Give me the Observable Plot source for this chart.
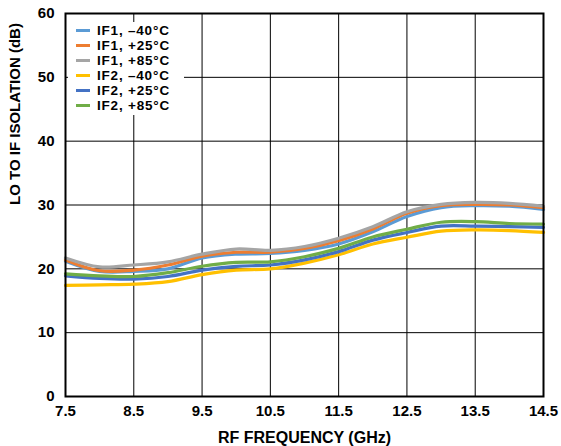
<!DOCTYPE html>
<html><head><meta charset="utf-8">
<script src="https://cdn.jsdelivr.net/npm/d3@7"></script>
<script src="https://cdn.jsdelivr.net/npm/@observablehq/plot@0.6"></script>
<style>
body{margin:0;background:#fff;}
#wrap{position:relative;width:561px;height:446px;}
#legend{position:absolute;left:68px;top:22px;width:116px;height:93px;background:#fff;
  font:bold 13.5px "Liberation Sans",Arial,sans-serif;letter-spacing:0.8px;color:#000;padding-top:1px;box-sizing:border-box;}
#legend .row{height:15.1px;line-height:15.1px;white-space:nowrap;padding-left:8px;}
#legend .sw{display:inline-block;width:14px;height:3px;vertical-align:middle;margin-right:7px;position:relative;top:-1px;}
</style></head>
<body><div id="wrap"></div>
<script>
const freq = [7.5, 8.0, 8.5, 9.0, 9.5, 10.0, 10.5, 11.0, 11.5, 12.0, 12.5, 13.0, 13.5, 14.0, 14.5];
const if1M40 = [21.2, 19.6, 19.6, 20.0, 21.7, 22.3, 22.4, 22.9, 23.9, 25.8, 28.2, 29.6, 29.9, 29.8, 29.3];
const if1P25 = [21.4, 19.7, 19.8, 20.6, 22.0, 22.6, 22.6, 23.2, 24.4, 26.25, 28.7, 29.9, 30.1, 30.0, 29.6];
const if1P85 = [21.7, 20.3, 20.6, 21.1, 22.3, 23.1, 22.9, 23.5, 24.8, 26.6, 28.95, 30.1, 30.4, 30.25, 29.8];
const if2M40 = [17.4, 17.5, 17.6, 18.0, 19.1, 19.8, 20.0, 20.9, 22.2, 23.9, 24.95, 25.9, 26.1, 26.0, 25.7];
const if2P25 = [18.9, 18.5, 18.4, 18.8, 19.8, 20.4, 20.6, 21.4, 22.7, 24.5, 25.7, 26.7, 26.7, 26.6, 26.5];
const if2P85 = [19.2, 18.9, 18.8, 19.4, 20.4, 21.0, 21.1, 21.9, 23.2, 25.0, 26.2, 27.3, 27.4, 27.1, 27.0];
const seriesNames = ["IF1, \u201340\u00B0C", "IF1, +25\u00B0C", "IF1, +85\u00B0C", "IF2, \u201340\u00B0C", "IF2, +25\u00B0C", "IF2, +85\u00B0C"];
const seriesColors = ["#5B9BD5", "#ED7D31", "#A5A5A5", "#FFC000", "#4472C4", "#70AD47"];
const xTicks = [7.5, 8.5, 9.5, 10.5, 11.5, 12.5, 13.5, 14.5];
const yTicks = [0, 10, 20, 30, 40, 50, 60];
const xTitle = "RF FREQUENCY (GHz)";
const yTitle = "LO TO IF ISOLATION (dB)";

const seriesValues = [if1M40, if1P25, if1P85, if2M40, if2P25, if2P85];
const data = seriesValues.flatMap((vals, i) => vals.map((v, j) => ({series: seriesNames[i], freq: freq[j], value: v})));

const font = '"Liberation Sans", Arial, sans-serif';
const chart = Plot.plot({
  width: 561, height: 446,
  marginLeft: 65, marginRight: 18, marginTop: 13, marginBottom: 50,
  style: {fontFamily: font, fontSize: "15px", fontWeight: "bold", color: "#000", background: "#fff", overflow: "visible"},
  x: {domain: [7.5, 14.5]},
  y: {domain: [0, 60]},
  color: {domain: seriesNames, range: seriesColors},
  marks: [
    Plot.gridX(xTicks, {stroke: "#000", strokeOpacity: 1, strokeWidth: 1}),
    Plot.gridY(yTicks, {stroke: "#000", strokeOpacity: 1, strokeWidth: 1}),
    Plot.line(data, {x: "freq", y: "value", z: "series", stroke: "series", strokeWidth: 3.2, curve: "catmull-rom"}),
    Plot.frame({stroke: "#000", strokeWidth: 2}),
    Plot.axisX(xTicks, {tickSize: 0, tickPadding: 9, tickFormat: d => d.toFixed(1), label: null, fontSize: 15}),
    Plot.axisY(yTicks, {tickSize: 0, tickPadding: 11, label: null, fontSize: 15}),
    Plot.text([xTitle], {frameAnchor: "bottom", dy: 41, text: d => d, fontSize: 16, fontWeight: "bold", lineAnchor: "middle"}),
    Plot.text([yTitle], {frameAnchor: "left", dx: -50, rotate: -90, text: d => d, fontSize: 15, fontWeight: "bold", lineAnchor: "middle"})
  ]
});
const wrap = document.getElementById("wrap");
wrap.appendChild(chart);
const legend = document.createElement("div");
legend.id = "legend";
seriesNames.forEach((name, i) => {
  const row = document.createElement("div");
  row.className = "row";
  const sw = document.createElement("span");
  sw.className = "sw";
  sw.style.background = seriesColors[i];
  row.appendChild(sw);
  row.appendChild(document.createTextNode(name));
  legend.appendChild(row);
});
wrap.appendChild(legend);
</script>
</body></html>
